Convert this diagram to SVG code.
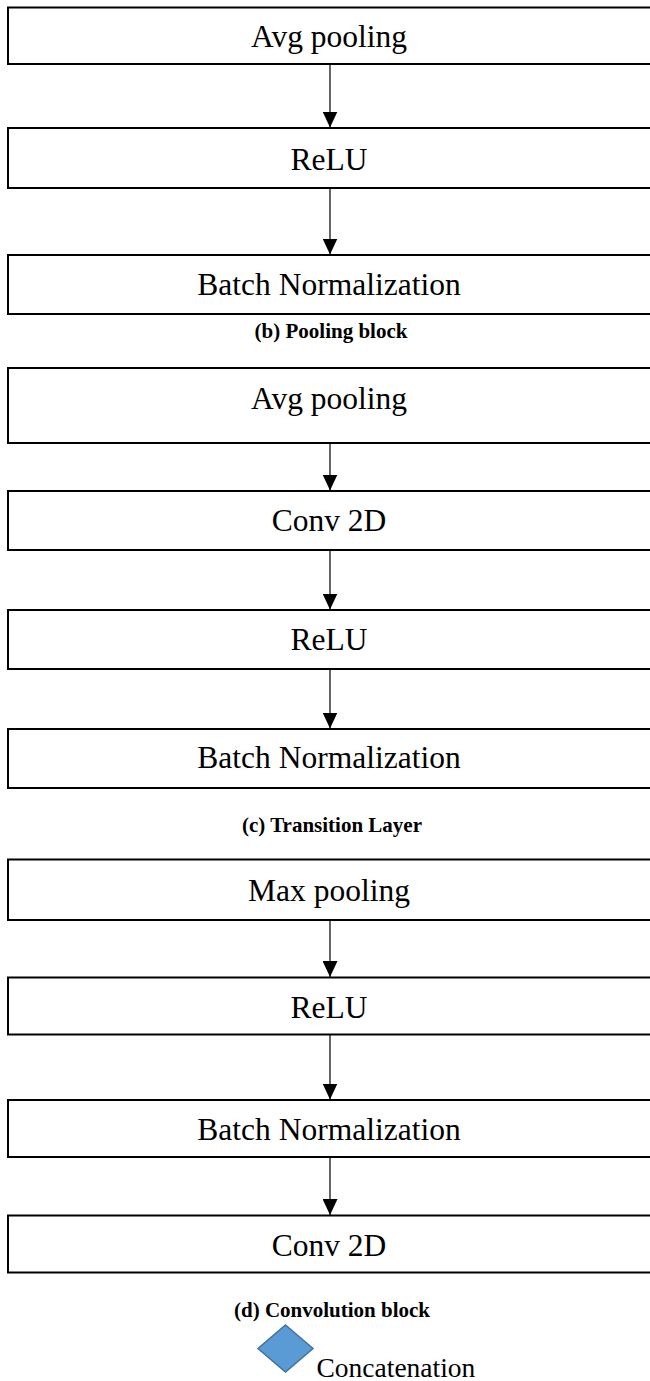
<svg xmlns="http://www.w3.org/2000/svg" width="650" height="1381" viewBox="0 0 650 1381">
<style>
.box{fill:#ffffff;stroke:#000000;stroke-width:2}
.lbl{font-family:'Liberation Serif',Tinos,'Times New Roman','DejaVu Serif',serif;font-size:31.5px;fill:#000000;text-anchor:middle}
.cap{font-family:'Liberation Serif',Tinos,'Times New Roman','DejaVu Serif',serif;font-size:21px;font-weight:bold;fill:#000000;text-anchor:middle}
.note{font-family:'Liberation Serif',Tinos,'Times New Roman','DejaVu Serif',serif;font-size:27.5px;fill:#000000}
.edge{stroke:#000000;stroke-width:1.2;fill:none;marker-end:url(#arr)}
</style>
<defs>
<marker id="arr" markerUnits="userSpaceOnUse" markerWidth="16" markerHeight="15" refX="16" refY="7.5" orient="auto" viewBox="0 0 16 15">
<path d="M0,0 L16,7.5 L0,15 Z" fill="#000000"/>
</marker>
</defs>
<rect width="650" height="1381" fill="#ffffff"/>
<g id="connectors">
<line class="edge" x1="330" y1="64" x2="330" y2="127.5"/>
<line class="edge" x1="330" y1="188" x2="330" y2="254.5"/>
<line class="edge" x1="330" y1="443" x2="330" y2="490.5"/>
<line class="edge" x1="330" y1="550" x2="330" y2="609.5"/>
<line class="edge" x1="330" y1="669" x2="330" y2="728.5"/>
<line class="edge" x1="330" y1="920" x2="330" y2="977"/>
<line class="edge" x1="330" y1="1034.5" x2="330" y2="1099.5"/>
<line class="edge" x1="330" y1="1157" x2="330" y2="1215"/>
</g>
<g id="b1"><rect class="box" x="8" y="7.5" width="700" height="56.5"/><text class="lbl" x="329" y="47">Avg pooling</text></g>
<g id="b2"><rect class="box" x="8" y="128" width="700" height="60"/><text class="lbl" x="329" y="169.5">ReLU</text></g>
<g id="b3"><rect class="box" x="8" y="255" width="700" height="59"/><text class="lbl" x="329" y="295">Batch Normalization</text></g>
<g id="capb"><text class="cap" x="331" y="338">(b) Pooling block</text></g>
<g id="c1"><rect class="box" x="8" y="368" width="700" height="75"/><text class="lbl" x="329" y="409">Avg pooling</text></g>
<g id="c2"><rect class="box" x="8" y="491" width="700" height="59"/><text class="lbl" x="329" y="531">Conv 2D</text></g>
<g id="c3"><rect class="box" x="8" y="610" width="700" height="59"/><text class="lbl" x="329" y="650">ReLU</text></g>
<g id="c4"><rect class="box" x="8" y="729" width="700" height="59"/><text class="lbl" x="329" y="768">Batch Normalization</text></g>
<g id="capc"><text class="cap" x="332" y="832">(c) Transition Layer</text></g>
<g id="d1"><rect class="box" x="8" y="859.5" width="700" height="60.5"/><text class="lbl" x="329" y="900.5">Max pooling</text></g>
<g id="d2"><rect class="box" x="8" y="977.5" width="700" height="57"/><text class="lbl" x="329" y="1017.5">ReLU</text></g>
<g id="d3"><rect class="box" x="8" y="1100" width="700" height="57"/><text class="lbl" x="329" y="1140">Batch Normalization</text></g>
<g id="d4"><rect class="box" x="8" y="1215.5" width="700" height="57"/><text class="lbl" x="329" y="1256">Conv 2D</text></g>
<g id="capd"><text class="cap" x="332" y="1317">(d) Convolution block</text></g>
<g id="concat"><path d="M285.5,1325 L313,1348.5 L285.5,1372 L258,1348.5 Z" fill="#5b9bd5" stroke="#41719c" stroke-width="1.5"/><text class="note" x="316.5" y="1377">Concatenation</text></g>
</svg>
